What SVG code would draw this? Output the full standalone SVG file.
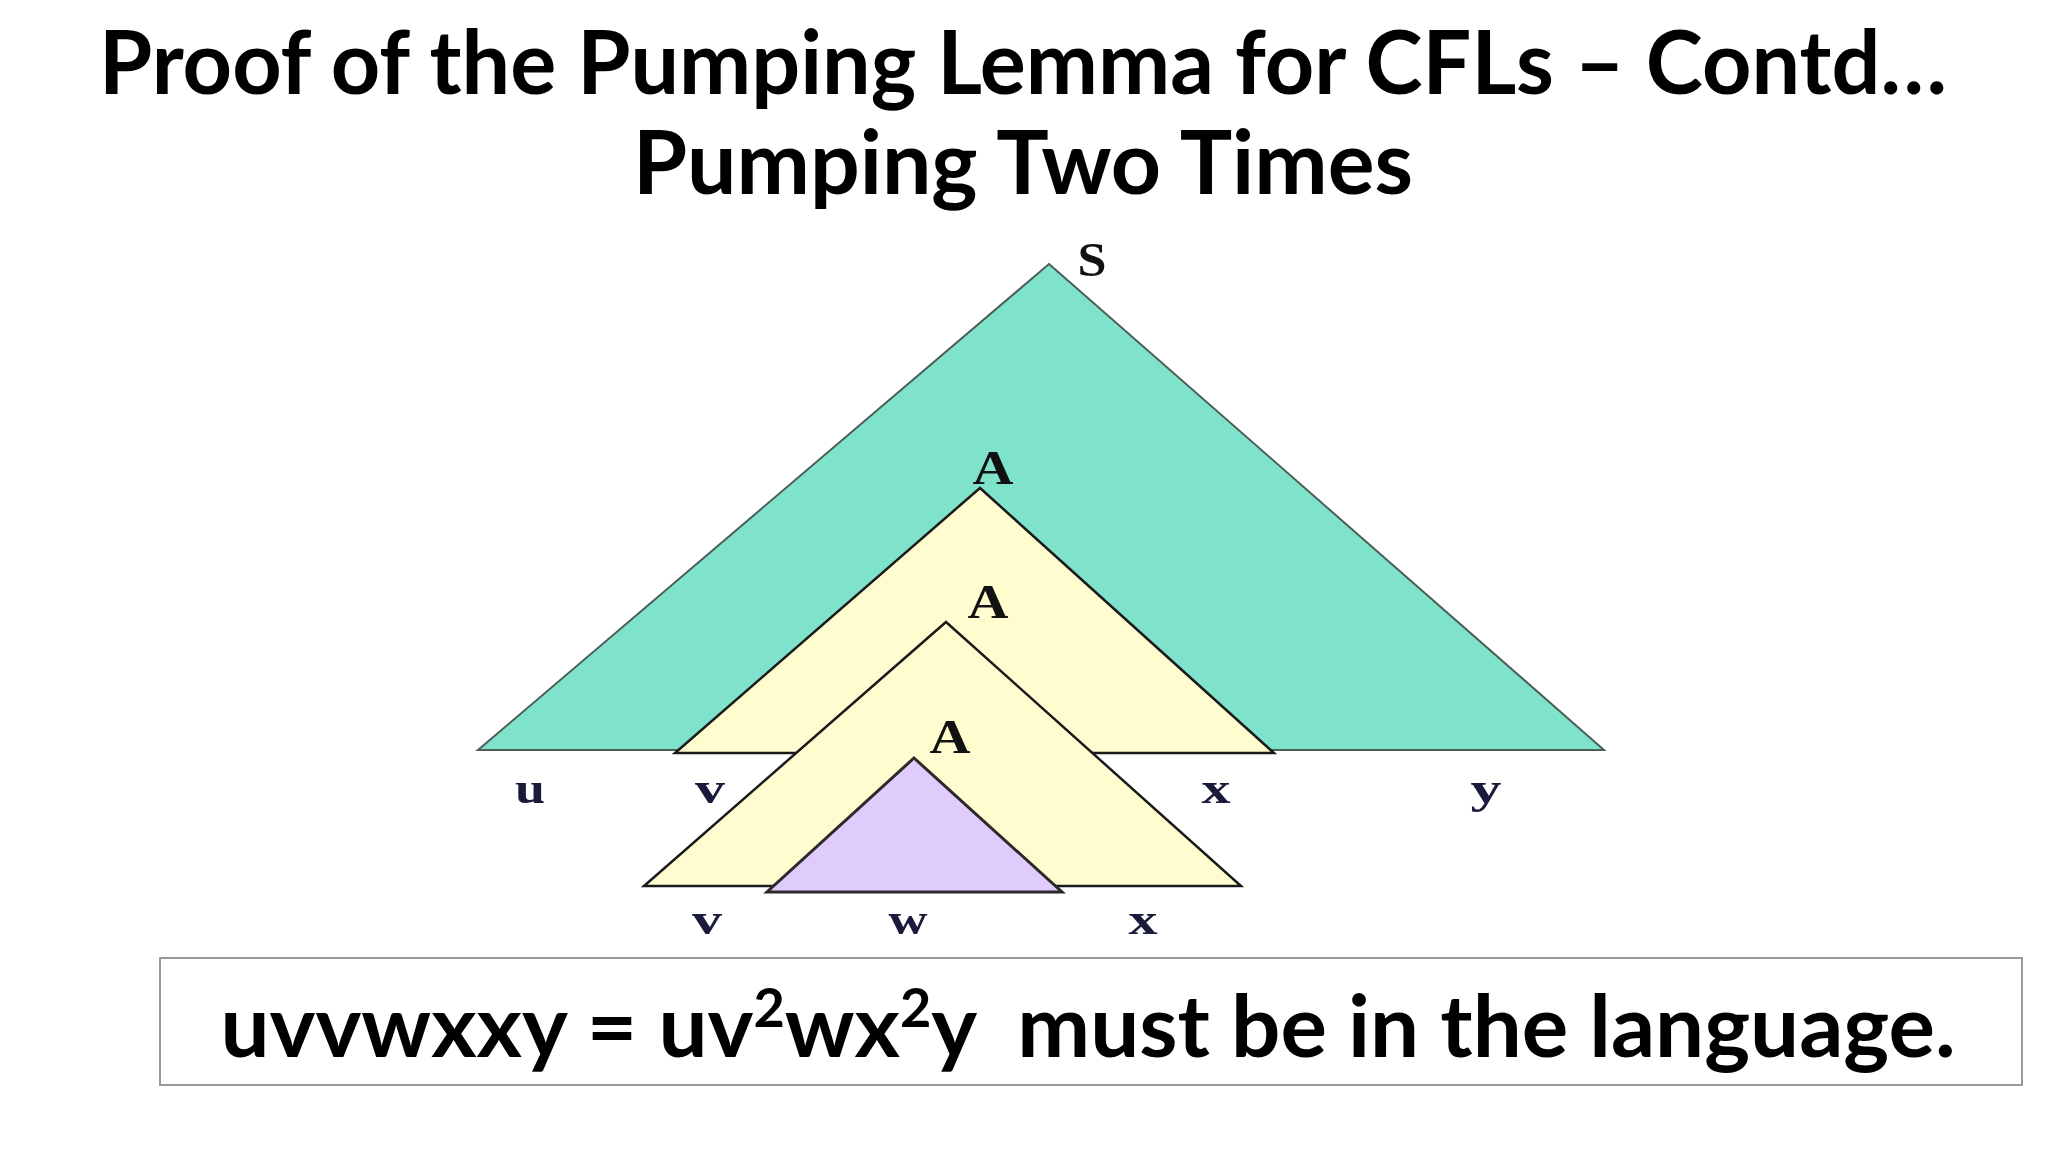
<svg xmlns="http://www.w3.org/2000/svg" width="2048" height="1152" viewBox="0 0 2048 1152">
<style>
.title{font-family:Lato,"Liberation Sans",sans-serif;font-weight:bold;font-size:88px;fill:#000;text-anchor:middle}
.lbl{font-family:"Liberation Serif","DejaVu Serif",serif;font-weight:bold;font-size:48px;fill:#111;text-anchor:middle}
.sm{font-family:"Liberation Serif","DejaVu Serif",serif;font-weight:bold;font-size:45px;fill:#1a1a3a;text-anchor:middle}
.teal{fill:#7fe3cb;stroke:#4d5e58;stroke-width:2;stroke-linejoin:miter}
.yel{fill:#fffdd0;stroke:#1a1a1a;stroke-width:2.5}
.pur{fill:#e0ccfc;stroke:#2a2a2a;stroke-width:3}
.eq{font-family:Lato,"Liberation Sans",sans-serif;font-weight:bold;font-size:87px;fill:#000;text-anchor:middle}
</style>
<rect width="2048" height="1152" fill="#fff"/>
<g id="title">
<text class="title" x="1023" y="94" textLength="1848" lengthAdjust="spacingAndGlyphs">Proof of the Pumping Lemma for CFLs – Contd…</text>
<text class="title" x="1023" y="194" textLength="780" lengthAdjust="spacingAndGlyphs">Pumping Two Times</text>
</g>
<g id="tree-S">
<polygon class="teal" points="1049,264 1604,750 478,750"/>
<text class="lbl" x="1092" y="276" textLength="29" lengthAdjust="spacingAndGlyphs">S</text>
</g>
<g id="tree-A1">
<polygon class="yel" points="980,488 1274,753 675,753"/>
<text class="lbl" x="993" y="484" textLength="41" lengthAdjust="spacingAndGlyphs">A</text>
</g>
<g id="tree-A2">
<polygon class="yel" points="946,622 1241,886 644,886"/>
<text class="lbl" x="988" y="618" textLength="41" lengthAdjust="spacingAndGlyphs">A</text>
</g>
<g id="tree-A3">
<polygon class="pur" points="914,758 1062,892 767,892"/>
<text class="lbl" x="950" y="753" textLength="41" lengthAdjust="spacingAndGlyphs">A</text>
</g>
<g id="leaves">
<text class="sm" x="530" y="803" textLength="30" lengthAdjust="spacingAndGlyphs">u</text>
<text class="sm" x="710" y="803" textLength="30" lengthAdjust="spacingAndGlyphs">v</text>
<text class="sm" x="1216" y="803" textLength="29" lengthAdjust="spacingAndGlyphs">x</text>
<text class="sm" x="1486" y="803" textLength="31" lengthAdjust="spacingAndGlyphs">y</text>
<text class="sm" x="707" y="934" textLength="30" lengthAdjust="spacingAndGlyphs">v</text>
<text class="sm" x="908" y="934" textLength="39" lengthAdjust="spacingAndGlyphs">w</text>
<text class="sm" x="1143" y="934" textLength="29" lengthAdjust="spacingAndGlyphs">x</text>
</g>
<g id="connectors"></g>
<g id="equation">
<rect x="160" y="958" width="1862" height="127" fill="#fff" stroke="#999" stroke-width="2"/>
<text class="eq" x="1088" y="1057" xml:space="preserve">uvvwxxy = uv<tspan font-size="54" dy="-30">2</tspan><tspan dy="30">wx</tspan><tspan font-size="54" dy="-30">2</tspan><tspan dy="30">y  must be in the language.</tspan></text>
</g>
</svg>
